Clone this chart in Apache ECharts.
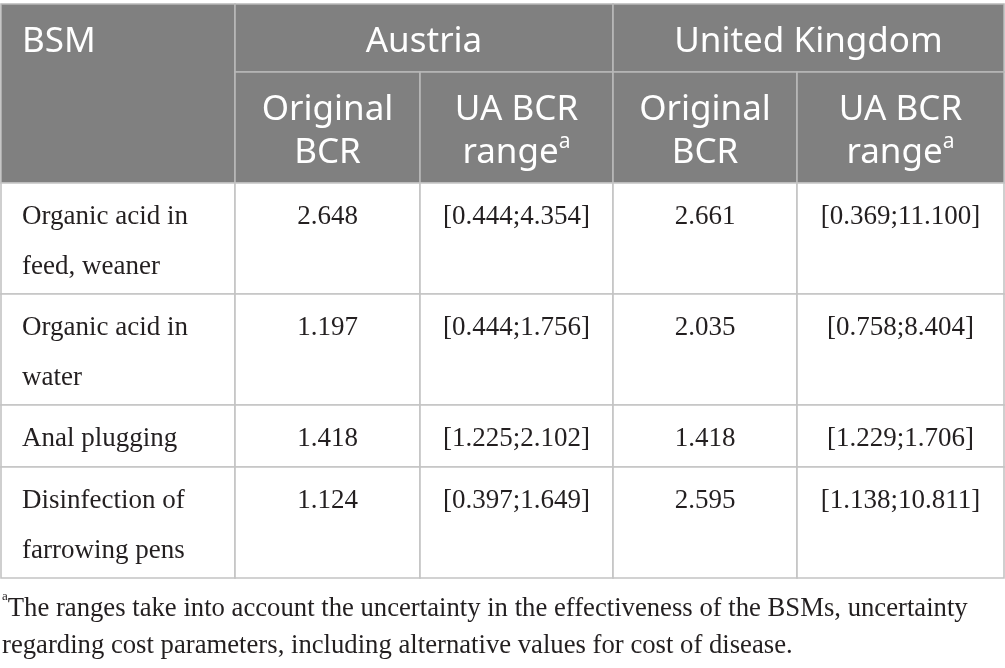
<!DOCTYPE html>
<html>
<head>
<meta charset="utf-8">
<script src="https://cdn.jsdelivr.net/npm/echarts@6/dist/echarts.min.js"></script>
<style>html,body{margin:0;padding:0;background:#fff;}#c{width:1005px;height:668px;}</style>
</head>
<body>
<div id="c"></div>
<script>
// ---- data ----
const countries = ['Austria', 'United Kingdom'];
const subHeaders = ['Original\nBCR', 'UA BCR\nrange{sup|a}'];
const bsmHeader = 'BSM';
const bsm = ['Organic acid in\nfeed, weaner', 'Organic acid in\nwater', 'Anal plugging', 'Disinfection of\nfarrowing pens'];
const austriaBCR = [2.648, 1.197, 1.418, 1.124];
const austriaLow = [0.444, 0.444, 1.225, 0.397];
const austriaHigh = [4.354, 1.756, 2.102, 1.649];
const ukBCR = [2.661, 2.035, 1.418, 2.595];
const ukLow = [0.369, 0.758, 1.229, 1.138];
const ukHigh = [11.100, 8.404, 1.706, 10.811];
const footnote = '{sup|a}The ranges take into account the uncertainty in the effectiveness of the BSMs, uncertainty\nregarding cost parameters, including alternative values for cost of disease.';

// ---- layout ----
const colEdges = [1, 235, 420, 613, 797, 1004];
const hdrY = [4, 72, 183];
const rowY = [183, 294, 405, 467, 578];
const W = 1005, H = 668;
const HDR_BG = '#808080', HDR_LINE = '#b8b8b8', BODY_LINE = '#c4c4c4';
const SANS = '"Noto Sans", sans-serif', SERIF = '"Liberation Serif", serif';

const f3 = v => v.toFixed(3);
const cells = [];
// header
cells.push({x0: colEdges[0], x1: colEdges[1], y0: hdrY[0], y1: hdrY[2], text: bsmHeader, hdr: true, align: 'left', ty: 42});
countries.forEach((c, i) => {
  cells.push({x0: colEdges[1 + 2 * i], x1: colEdges[3 + 2 * i], y0: hdrY[0], y1: hdrY[1], text: c, hdr: true, align: 'center', ty: 42});
  subHeaders.forEach((s, j) => {
    cells.push({x0: colEdges[1 + 2 * i + j], x1: colEdges[2 + 2 * i + j], y0: hdrY[1], y1: hdrY[2], text: s, hdr: true, align: 'center', ty: 132});
  });
});
// body
bsm.forEach((name, r) => {
  const vals = [name, f3(austriaBCR[r]), '[' + f3(austriaLow[r]) + ';' + f3(austriaHigh[r]) + ']',
                f3(ukBCR[r]), '[' + f3(ukLow[r]) + ';' + f3(ukHigh[r]) + ']'];
  vals.forEach((v, c) => {
    cells.push({x0: colEdges[c], x1: colEdges[c + 1], y0: rowY[r], y1: rowY[r + 1], text: v, hdr: false, align: c === 0 ? 'left' : 'center'});
  });
});

const chart = echarts.init(document.getElementById('c'), null, {renderer: 'canvas'});
chart.setOption({
  animation: false,
  grid: {left: 0, right: 0, top: 0, bottom: 0},
  xAxis: {type: 'value', min: 0, max: W, show: false},
  yAxis: {type: 'value', min: 0, max: H, inverse: true, show: false},
  series: [{
    type: 'custom',
    silent: true,
    data: cells.map(c => [c.x0, c.y0, c.x1, c.y1]),
    encode: {x: [0, 2], y: [1, 3]},
    renderItem: function (params, api) {
      const c = cells[params.dataIndex];
      const p0 = api.coord([api.value(0), api.value(1)]);
      const p1 = api.coord([api.value(2), api.value(3)]);
      const children = [{
        type: 'rect',
        shape: {x: p0[0], y: p0[1], width: p1[0] - p0[0], height: p1[1] - p0[1]},
        style: {fill: c.hdr ? HDR_BG : '#fff', stroke: c.hdr ? HDR_LINE : BODY_LINE, lineWidth: 1.6}
      }];
      let tx, ty, va;
      if (c.align === 'left') tx = p0[0] + 21; else tx = (p0[0] + p1[0]) / 2;
      if (c.hdr) {
        ty = api.coord([0, c.ty])[1]; va = 'middle';
      } else {
        ty = p0[1] + 9; va = 'top';
      }
      const style = c.hdr ? {
        text: c.text, fill: '#ffffff', fontFamily: SANS, fontSize: 35, lineHeight: 43,
        rich: {sup: {fontSize: 21, fontFamily: SANS, fill: '#ffffff', lineHeight: 28, verticalAlign: 'top'}}
      } : {
        text: c.text, fill: '#231f20', fontFamily: SERIF, fontSize: 27, lineHeight: 50
      };
      style.align = c.align; style.textAlign = c.align;
      style.verticalAlign = va; style.textVerticalAlign = va;
      children.push({type: 'text', x: tx, y: ty, style: style});
      return {type: 'group', children: children};
    }
  }],
  graphic: [{
    type: 'text', left: 2, top: 590, silent: true,
    style: {
      text: footnote, fill: '#231f20', fontFamily: SERIF, fontSize: 26.7, lineHeight: 37,
      rich: {sup: {fontSize: 13, fontFamily: SERIF, fill: '#231f20', verticalAlign: 'top', lineHeight: 26}}
    }
  }]
});
</script>
</body>
</html>
